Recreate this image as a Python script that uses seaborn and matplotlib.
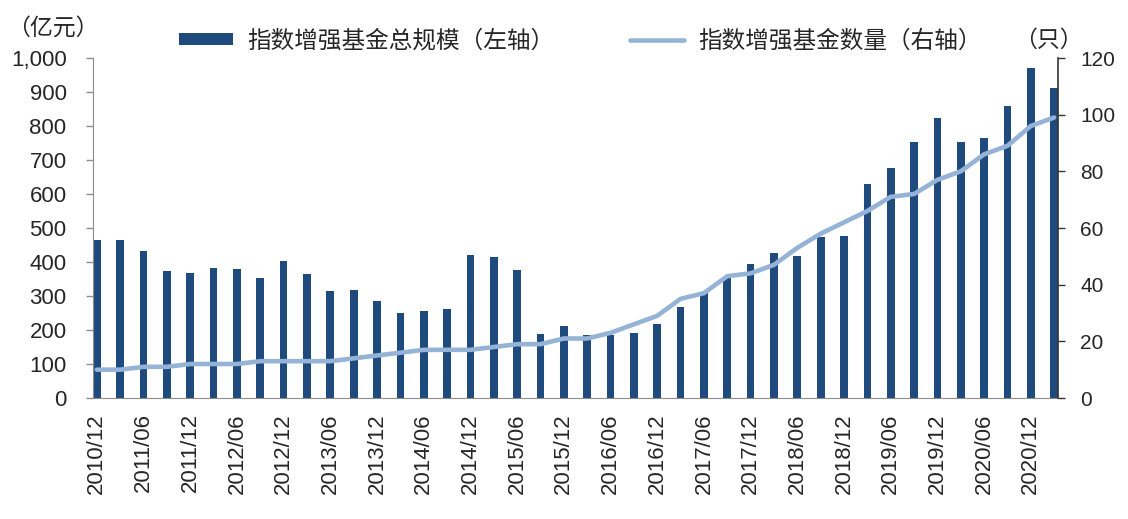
import matplotlib
matplotlib.use("Agg")
import matplotlib.pyplot as plt
import numpy as np
import seaborn as sns
from matplotlib.patches import Patch
from matplotlib.lines import Line2D
from matplotlib.ticker import StrMethodFormatter, FixedLocator

quarters = ["2010/12",
            "2011/03", "2011/06", "2011/09", "2011/12",
            "2012/03", "2012/06", "2012/09", "2012/12",
            "2013/03", "2013/06", "2013/09", "2013/12",
            "2014/03", "2014/06", "2014/09", "2014/12",
            "2015/03", "2015/06", "2015/09", "2015/12",
            "2016/03", "2016/06", "2016/09", "2016/12",
            "2017/03", "2017/06", "2017/09", "2017/12",
            "2018/03", "2018/06", "2018/09", "2018/12",
            "2019/03", "2019/06", "2019/09", "2019/12",
            "2020/03", "2020/06", "2020/09", "2020/12",
            "2021/03"]

# 指数增强基金总规模（亿元）
fund_scale = [465, 465, 432, 373, 368, 382, 379, 353, 403, 365,
              315, 318, 285, 250, 255, 262, 420, 415, 376, 188,
              212, 184, 185, 191, 218, 268, 309, 353, 394, 427,
              418, 474, 476, 629, 676, 753, 823, 753, 764, 859,
              970, 912]

# 指数增强基金数量（只）
fund_count = [10, 10, 11, 11, 12, 12, 12, 13, 13, 13,
              13, 14, 15, 16, 17, 17, 17, 18, 19, 19,
              21, 21, 23, 26, 29, 35, 37, 43, 44, 47,
              53, 58, 62, 66, 71, 72, 77, 80, 86, 89,
              96, 99]

bar_label = "指数增强基金总规模（左轴）"
line_label = "指数增强基金数量（右轴）"

bar_color = "#1f4a7e"
line_color = "#95b3d7"
grey = "#8c8c8c"

sns.set_style("white")
plt.rcParams["font.family"] = ["Liberation Sans", "Noto Sans CJK SC", "DejaVu Sans"]
cjk = ["Noto Sans CJK SC", "DejaVu Sans"]

W, H = 1128, 519
fig = plt.figure(figsize=(W / 100, H / 100), dpi=100)
ax = fig.add_axes([93 / W, 1 - 398 / H, (1058 - 93) / W, 340 / H])

bw = 0.33
sns.barplot(x=quarters, y=fund_scale, color=bar_color, saturation=1,
            width=bw, linewidth=0, ax=ax)

ax2 = ax.twinx()
sns.lineplot(x=np.arange(len(fund_count)), y=fund_count, color=line_color,
             lw=3.3, ax=ax2, solid_joinstyle="round", solid_capstyle="round")

ax.set_xlim(-bw / 2, len(quarters) - 1 + bw / 2)
ax.set_ylim(0, 1000)
ax2.set_ylim(0, 120)
ax.set_yticks(np.arange(0, 1001, 100))
ax2.set_yticks(np.arange(0, 121, 20))
ax.yaxis.set_major_formatter(StrMethodFormatter("{x:,.0f}"))

# x labels every half year, tick marks at left edge of bars
idx = np.arange(0, len(quarters), 2)
ax.set_xticks(idx)
ax.set_xticklabels([quarters[i] for i in idx], rotation=90)
ax.xaxis.set_minor_locator(FixedLocator(idx - bw / 2))
ax.tick_params(axis="x", which="major", length=0, pad=11, labelsize=16)
ax.tick_params(axis="x", which="minor", length=5, width=1, color=grey, direction="out")
ax.tick_params(axis="y", length=5, width=1, color=grey, direction="out",
               pad=14, labelsize=16, left=True)
ax2.tick_params(axis="y", length=5, width=1, color="#333333", direction="out",
                pad=11, labelsize=15, right=True)

ax.set_xlabel("")
ax.set_ylabel("")
ax2.set_xlabel("")
ax2.set_ylabel("")

for s in ["top", "right"]:
    ax.spines[s].set_visible(False)
for s in ["top", "left", "bottom"]:
    ax2.spines[s].set_visible(False)
ax.spines["left"].set_color(grey)
ax.spines["bottom"].set_color(grey)
ax2.spines["right"].set_color("#333333")
ax2.spines["right"].set_linewidth(1.2)

fig.text(7 / W, 1 - 28 / H, "（亿元）", fontsize=16.5, family=cjk,
         ha="left", va="center")
fig.text(1048 / W, 1 - 40 / H, "（只）", fontsize=16.5, family=cjk,
         ha="center", va="center")

handles = [Patch(facecolor=bar_color, edgecolor="none"),
           Line2D([], [], color=line_color, lw=3.3)]
fig.legend(handles, [bar_label, line_label], loc="center left",
           bbox_to_anchor=(179 / W, 1 - 41 / H), ncol=2, frameon=False,
           borderaxespad=0, borderpad=0, handlelength=2.3, handleheight=0.4,
           handletextpad=0.6, columnspacing=3.2,
           prop={"family": cjk, "size": 17})

fig.savefig("out.png", dpi=100)
